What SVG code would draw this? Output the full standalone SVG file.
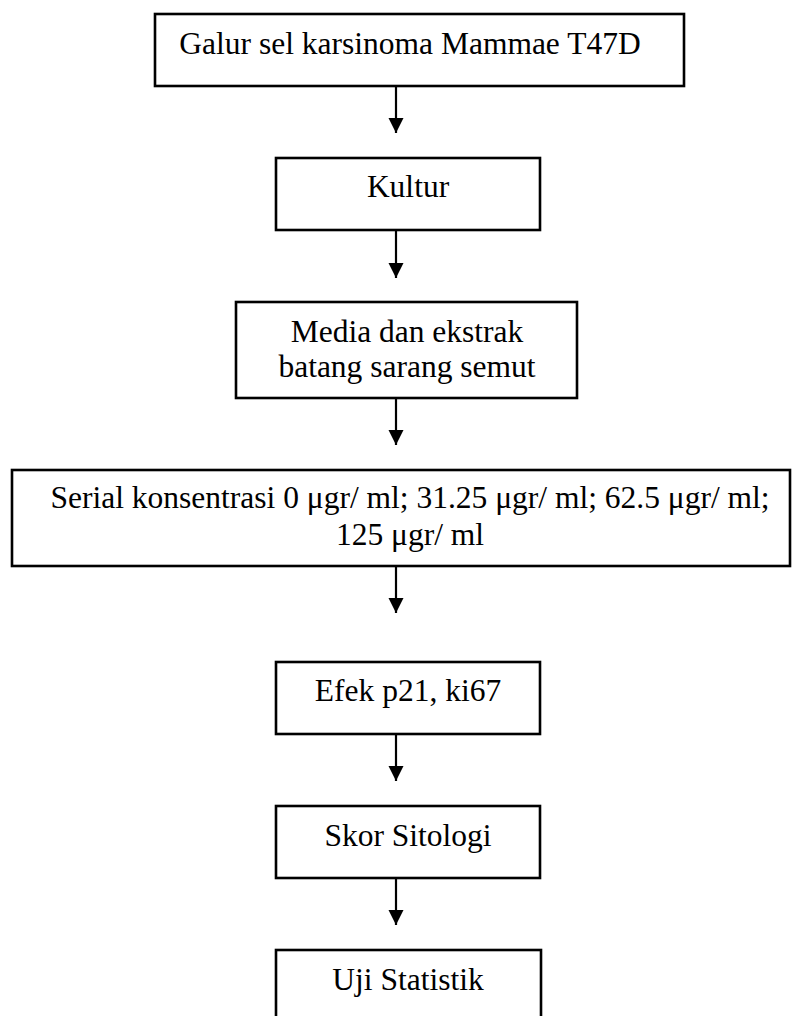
<svg xmlns="http://www.w3.org/2000/svg" width="792" height="1016" viewBox="0 0 792 1016">
  <defs>
    <style>
      .box { fill: #ffffff; stroke: #000000; stroke-width: 2.6; }
      .lbl { font-family: "Liberation Serif", "Times New Roman", serif; font-size: 31.5px; fill: #000000; text-anchor: middle; }
      .conn { stroke: #000000; stroke-width: 2.2; fill: none; }
    </style>
    <marker id="arrow" markerUnits="userSpaceOnUse" markerWidth="16" markerHeight="16" viewBox="0 0 16 16" refX="15" refY="8" orient="auto">
      <path d="M0,0.5 L15,8 L0,15.5 Z" fill="#000000"/>
    </marker>
  </defs>
  <rect width="792" height="1016" fill="#ffffff"/>

  <g id="node-galur">
    <rect class="box" x="155" y="14" width="529" height="72"/>
    <text class="lbl" x="410" y="54">Galur sel karsinoma Mammae T47D</text>
  </g>
  <g id="node-kultur">
    <rect class="box" x="276" y="158" width="264" height="72"/>
    <text class="lbl" x="408" y="197">Kultur</text>
  </g>
  <g id="node-media">
    <rect class="box" x="236" y="302" width="341" height="96"/>
    <text class="lbl" x="407" y="342">Media dan ekstrak</text>
    <text class="lbl" x="407" y="377">batang sarang semut</text>
  </g>
  <g id="node-serial">
    <rect class="box" x="12" y="470" width="778" height="96"/>
    <text class="lbl" x="410" y="508">Serial konsentrasi 0 μgr/ ml; 31.25 μgr/ ml; 62.5 μgr/ ml;</text>
    <text class="lbl" x="410" y="545">125 μgr/ ml</text>
  </g>
  <g id="node-efek">
    <rect class="box" x="276" y="662" width="264" height="72"/>
    <text class="lbl" x="408" y="701">Efek p21, ki67</text>
  </g>
  <g id="node-skor">
    <rect class="box" x="276" y="806" width="264" height="72"/>
    <text class="lbl" x="408" y="846">Skor Sitologi</text>
  </g>
  <g id="node-uji">
    <rect class="box" x="276" y="950" width="265" height="74"/>
    <text class="lbl" x="408" y="990">Uji Statistik</text>
  </g>

  <g id="connectors">
    <line class="conn" x1="396" y1="86" x2="396" y2="133" marker-end="url(#arrow)"/>
    <line class="conn" x1="396" y1="230" x2="396" y2="278" marker-end="url(#arrow)"/>
    <line class="conn" x1="396" y1="398" x2="396" y2="445" marker-end="url(#arrow)"/>
    <line class="conn" x1="396" y1="566" x2="396" y2="613" marker-end="url(#arrow)"/>
    <line class="conn" x1="396" y1="734" x2="396" y2="781" marker-end="url(#arrow)"/>
    <line class="conn" x1="396" y1="878" x2="396" y2="925" marker-end="url(#arrow)"/>
  </g>
</svg>
